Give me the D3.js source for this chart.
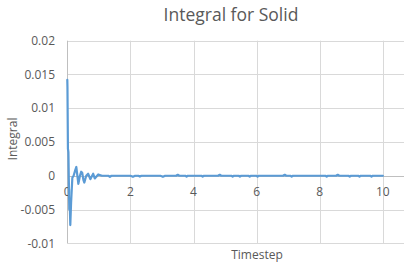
<!DOCTYPE html>
<html><head><meta charset="utf-8">
<script src="https://cdn.jsdelivr.net/npm/d3@7/dist/d3.min.js"></script>
<style>body{margin:0;background:#fff;}svg{display:block;font-family:"Open Sans","Noto Sans",sans-serif;}</style>
</head><body>
<svg id="c" width="417" height="266"></svg>
<script>
const title = "Integral for Solid";
const xTitle = "Timestep";
const yTitle = "Integral";
const xTicks = [0, 2, 4, 6, 8, 10];
const yTicks = [-0.01, -0.005, 0, 0.005, 0.01, 0.015, 0.02];
const yTickLabels = ["-0.01", "-0.005", "0", "0.005", "0.01", "0.015", "0.02"];
const timestep = [0, 0.005, 0.02, 0.035, 0.063, 0.08, 0.095, 0.12, 0.16, 0.2, 0.25, 0.285, 0.32, 0.35, 0.4, 0.44, 0.475, 0.51, 0.54, 0.6, 0.66, 0.73, 0.82, 0.87, 0.98, 1.1, 1.3, 1.35, 1.4, 2.0, 2.08, 2.15, 2.25, 2.3, 2.35, 2.95, 3.03, 3.1, 3.45, 3.5, 3.55, 3.74, 3.78, 3.82, 4.25, 4.29, 4.33, 4.78, 4.83, 4.88, 5.2, 5.24, 5.28, 5.43, 5.47, 5.51, 5.74, 5.78, 5.82, 5.99, 6.03, 6.07, 6.84, 6.89, 6.94, 7.07, 7.11, 7.15, 8.18, 8.22, 8.26, 8.52, 8.57, 8.62, 8.91, 8.95, 8.99, 9.22, 9.26, 9.3, 9.6, 9.64, 9.68, 10];
const integral = [0.0142, 0.0131, 0.004, 0.0035, -0.005, -0.0045, -0.0073, -0.004, -0.0003, 0, 0.0008, 0.0013, 0, -0.0012, 0, 0.0006, 0.0004, -0.0006, -0.001, 0, 0.0003, -0.0005, 0.0003, -0.0004, 0.0002, 0, 0, -0.00015, 0, 0, -0.00015, 0, 0, -0.00012, 0, 0, -0.00015, 0, 0, 0.00015, 0, 0, -0.00012, 0, 0, -0.00012, 0, 0, 0.00015, 0, 0, -0.00012, 0, 0, -0.00012, 0, 0, -0.00012, 0, 0, -0.00012, 0, 0, 0.00015, 0, 0, -0.00012, 0, 0, -0.00012, 0, 0, 0.00015, 0, 0, -0.00012, 0, 0, -0.00012, 0, 0, -0.00012, 0, 0];

const svg = d3.select("#c");
const W = 417, H = 266;
const m = {left: 67.3, right: 404, top: 40.7, bottom: 243.3};
const x = d3.scaleLinear().domain([0, 10.67]).range([m.left, m.right]);
const y = d3.scaleLinear().domain([-0.01, 0.02]).range([m.bottom, m.top]);
const grid = "#d9d9d9", txt = "#595959";

// horizontal gridlines
svg.append("g").selectAll("line").data(yTicks.filter(d => d !== 0)).join("line")
  .attr("x1", m.left).attr("x2", m.right)
  .attr("y1", d => Math.round(y(d)) + 0.5).attr("y2", d => Math.round(y(d)) + 0.5)
  .attr("stroke", grid).attr("stroke-width", 1);
// vertical gridlines
svg.append("g").selectAll("line").data(xTicks.filter(d => d !== 0)).join("line")
  .attr("x1", d => Math.round(x(d)) + 0.5).attr("x2", d => Math.round(x(d)) + 0.5)
  .attr("y1", m.top).attr("y2", m.bottom)
  .attr("stroke", grid).attr("stroke-width", 1);
// axis lines
svg.append("line").attr("x1", Math.round(x(0)) + 0.5).attr("x2", Math.round(x(0)) + 0.5)
  .attr("y1", m.top).attr("y2", m.bottom).attr("stroke", "#bfbfbf");
svg.append("line").attr("x1", m.left).attr("x2", m.right)
  .attr("y1", Math.round(y(0)) + 0.5).attr("y2", Math.round(y(0)) + 0.5).attr("stroke", "#bfbfbf");

// y tick labels
svg.append("g").selectAll("text").data(yTicks).join("text")
  .attr("x", 55).attr("y", d => y(d)).attr("dy", "0.35em")
  .attr("text-anchor", "end").attr("font-size", 12).attr("fill", txt)
  .text((d, i) => yTickLabels[i]);
// x tick labels
svg.append("g").selectAll("text").data(xTicks).join("text")
  .attr("x", d => x(d)).attr("y", 195.5)
  .attr("text-anchor", "middle").attr("font-size", 12).attr("fill", txt)
  .text(d => d);

// line
const pts = timestep.map((t, i) => [t, integral[i]]);
svg.append("path").datum(pts)
  .attr("d", d3.line().x(d => x(d[0])).y(d => y(d[1])))
  .attr("fill", "none").attr("stroke", "#5b9bd5").attr("stroke-width", 2.2)
  .attr("stroke-linejoin", "round").attr("stroke-linecap", "round");

// titles
svg.append("text").attr("x", 231).attr("y", 21).attr("text-anchor", "middle")
  .attr("font-size", 17.5).attr("fill", txt).text(title);
svg.append("text").attr("x", 257).attr("y", 259).attr("text-anchor", "middle")
  .attr("font-size", 12).attr("fill", txt).text(xTitle);
svg.append("text").attr("transform", "translate(17,139) rotate(-90)").attr("text-anchor", "middle")
  .attr("font-size", 12).attr("fill", txt).text(yTitle);
</script>
</body></html>
